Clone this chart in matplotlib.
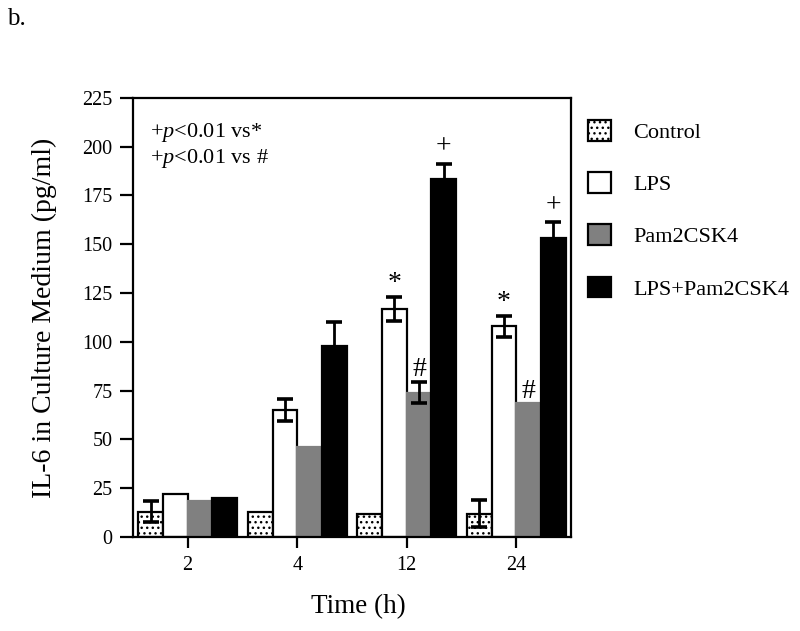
import numpy as np
import matplotlib
matplotlib.use("Agg")
import matplotlib.pyplot as plt
import matplotlib.patches as mpatches

plt.rcParams["font.family"] = ["Liberation Serif", "DejaVu Serif"]
plt.rcParams["mathtext.fontset"] = "custom"
plt.rcParams["mathtext.rm"] = "Liberation Serif"
plt.rcParams["mathtext.it"] = "Liberation Serif:italic"
plt.rcParams["hatch.linewidth"] = 1.0

# data
times = ["2", "4", "12", "24"]
groups = ["Control", "LPS", "Pam2CSK4", "LPS+Pam2CSK4"]
control = [13, 13, 12, 12]
lps = [22, 65, 117, 108]
pam = [18.5, 46, 74, 68.5]
lps_pam = [20, 98, 183.5, 153]
control_err = [5.5, 0, 0, 6.8]
lps_err = [0, 5.6, 6.2, 5.4]
pam_err = [0, 0, 5.5, 0]
lps_pam_err = [0, 12.3, 7.8, 8.5]
# significance marks: (group index, time index, symbol)
marks = [(1, 2, "*"), (1, 3, "*"), (2, 2, "#"), (2, 3, "#"),
         (3, 2, "+"), (3, 3, "+")]

values = [control, lps, pam, lps_pam]
errors = [control_err, lps_err, pam_err, lps_pam_err]
faces = ["white", "white", "#808080", "black"]
edges = ["black", "black", "#808080", "black"]
hatches = ["...", None, None, None]

fig = plt.figure(figsize=(8, 6.31), dpi=100)
ax = fig.add_axes([0.166, 0.149, 0.548, 0.696])

x = np.arange(len(times))
w = 0.225
for i, (vals, errs) in enumerate(zip(values, errors)):
    xs = x + (i - 1.5) * w
    ax.bar(xs, vals, w, color=faces[i], edgecolor=edges[i], hatch=hatches[i],
           linewidth=1.6, zorder=2)
    errs = np.array(errs)
    m = errs > 0
    ax.errorbar(xs[m], np.array(vals)[m], yerr=errs[m], fmt="none",
                ecolor="black", elinewidth=2.0, capsize=6, capthick=2.6,
                zorder=3)

pads = {"*": 5, "#": 4, "+": 7}
for g, t, sym in marks:
    top = values[g][t] + errors[g][t]
    ax.annotate(sym, (x[t] + (g - 1.5) * w, top), xytext=(0, pads[sym]),
                textcoords="offset points", ha="center", va="baseline",
                fontsize=20)

ax.set_xlim(-0.5, 3.5)
ax.set_ylim(0, 225)
ax.set_yticks(np.arange(0, 226, 25))
ax.set_xticks(x)
ax.set_xticklabels(times)
for s in ax.spines.values():
    s.set_linewidth(1.6)
ax.tick_params(axis="y", direction="out", length=9.5, width=1.6, pad=5,
               labelsize=14.5)
ax.tick_params(axis="x", direction="out", length=8, width=1.6, pad=6,
               labelsize=14.5)

ax.set_ylabel("IL-6 in Culture Medium (pg/ml)", fontsize=20, labelpad=18)
ax.set_xlabel("Time (h)", fontsize=19.5, labelpad=17)
ax.xaxis.set_label_coords(0.514, -0.13)

ax.text(0.039, 0.911, r"+$p$<0.01 vs*", transform=ax.transAxes,
        fontsize=16, va="baseline")
ax.text(0.039, 0.852, r"+$p$<0.01 vs #", transform=ax.transAxes,
        fontsize=16, va="baseline")

handles = [mpatches.Patch(facecolor=faces[i], edgecolor="black",
                          hatch=hatches[i], linewidth=1.6, label=groups[i])
           for i in range(len(groups))]
fig.legend(handles=handles, loc="upper left",
           bbox_to_anchor=(588 / 800, 1 - 120 / 631), frameon=False,
           fontsize=16, handlelength=1.05, handleheight=1.05,
           handletextpad=1.0, labelspacing=1.32, borderpad=0,
           borderaxespad=0)

fig.text(7 / 800, 1 - 25 / 631, "b.", fontsize=18, va="baseline")

fig.savefig("out.png", dpi=100)
